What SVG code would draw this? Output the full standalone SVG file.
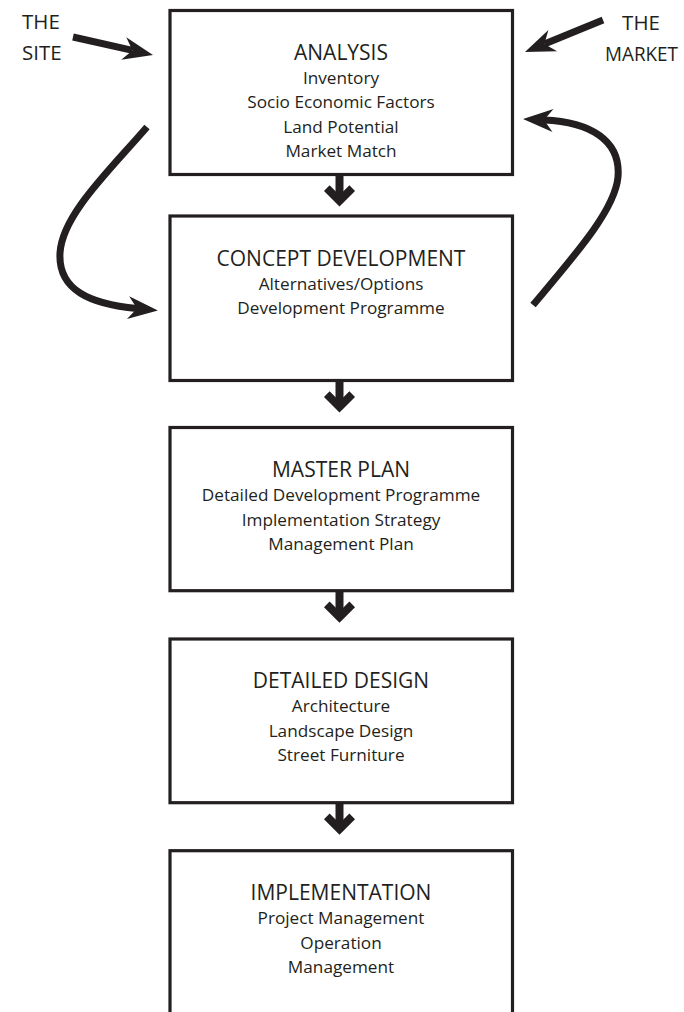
<svg xmlns="http://www.w3.org/2000/svg" width="684" height="1012" viewBox="0 0 684 1012">
  <style>
    .box { fill: #ffffff; stroke: #231f20; stroke-width: 3.2; }
    .title { font-family: "Open Sans", "Noto Sans", sans-serif; font-size: 21px; fill: #231f20; text-anchor: middle; }
    .sub { font-family: "Open Sans", "Noto Sans", sans-serif; font-size: 17.2px; fill: #231f20; text-anchor: middle; }
    .side { font-family: "Open Sans", "Noto Sans", sans-serif; font-size: 20.5px; fill: #231f20; }
    .shaft { fill: none; stroke: #231f20; stroke-width: 7; stroke-linecap: butt; }
    .down { fill: none; stroke: #231f20; stroke-width: 8; stroke-linejoin: miter; stroke-linecap: butt; }
  </style>
  <defs>
    <!-- swept arrowhead: notch sits at the path end, tip 21px ahead -->
    <marker id="head" markerUnits="userSpaceOnUse" viewBox="-10 -13 32 26" markerWidth="32" markerHeight="26" refX="0" refY="0" orient="auto" overflow="visible">
      <path d="M21,0 L-9,-11.5 L0,0 L-9,11.5 Z" fill="#231f20"/>
    </marker>
    <!-- thick down arrow: stem plus chevron, tip at (0,0) -->
    <g id="down-arrow">
      <line class="down" x1="0" y1="-32" x2="0" y2="-5.7"/>
      <polyline class="down" points="-12.7,-18.4 0,-5.7 12.7,-18.4"/>
    </g>
  </defs>

  <g id="node-analysis">
    <rect class="box" x="170" y="10.5" width="342.5" height="164"/>
    <text class="title" x="341" y="60">ANALYSIS</text>
    <text class="sub" x="341" y="83.5">Inventory</text>
    <text class="sub" x="341" y="108">Socio Economic Factors</text>
    <text class="sub" x="341" y="132.5">Land Potential</text>
    <text class="sub" x="341" y="157">Market Match</text>
  </g>

  <g id="node-concept">
    <rect class="box" x="170" y="216" width="342.5" height="164.5"/>
    <text class="title" x="341" y="265.5">CONCEPT DEVELOPMENT</text>
    <text class="sub" x="341" y="289.5">Alternatives/Options</text>
    <text class="sub" x="341" y="314">Development Programme</text>
  </g>

  <g id="node-masterplan">
    <rect class="box" x="170" y="427.5" width="342.5" height="163.2"/>
    <text class="title" x="341" y="477">MASTER PLAN</text>
    <text class="sub" x="341" y="501">Detailed Development Programme</text>
    <text class="sub" x="341" y="525.5">Implementation Strategy</text>
    <text class="sub" x="341" y="550">Management Plan</text>
  </g>

  <g id="node-design">
    <rect class="box" x="170" y="639" width="342.5" height="163.7"/>
    <text class="title" x="341" y="688">DETAILED DESIGN</text>
    <text class="sub" x="341" y="712">Architecture</text>
    <text class="sub" x="341" y="736.5">Landscape Design</text>
    <text class="sub" x="341" y="761">Street Furniture</text>
  </g>

  <g id="node-implementation">
    <rect class="box" x="170" y="850.7" width="342.5" height="190"/>
    <text class="title" x="341" y="900">IMPLEMENTATION</text>
    <text class="sub" x="341" y="924">Project Management</text>
    <text class="sub" x="341" y="948.5">Operation</text>
    <text class="sub" x="341" y="973">Management</text>
  </g>

  <g id="label-site">
    <text class="side" x="22" y="29">THE</text>
    <text class="side" x="22" y="60">SITE</text>
  </g>

  <g id="label-market">
    <text class="side" x="641" y="30" text-anchor="middle">THE</text>
    <text class="side" x="605" y="61" textLength="73" lengthAdjust="spacingAndGlyphs">MARKET</text>
  </g>

  <g id="connectors">
    <!-- inputs into the analysis box -->
    <path class="shaft" d="M73,37 L132.5,50.4" marker-end="url(#head)"/>
    <path class="shaft" d="M603,20 L544.4,44" marker-end="url(#head)"/>
    <!-- feedback loops between analysis and concept -->
    <path class="shaft" d="M147,127 C110,170 62,215 60,253 C58,290 90,304 137,308.5" marker-end="url(#head)"/>
    <path class="shaft" d="M533,305 C575,255 615,210 618,177 C621,140 590,122 544,120" marker-end="url(#head)"/>
    <!-- flow down the stages -->
    <use href="#down-arrow" x="339.5" y="206.5"/>
    <use href="#down-arrow" x="339.5" y="412.5"/>
    <use href="#down-arrow" x="339.5" y="622.7"/>
    <use href="#down-arrow" x="339.5" y="834.7"/>
  </g>
</svg>
